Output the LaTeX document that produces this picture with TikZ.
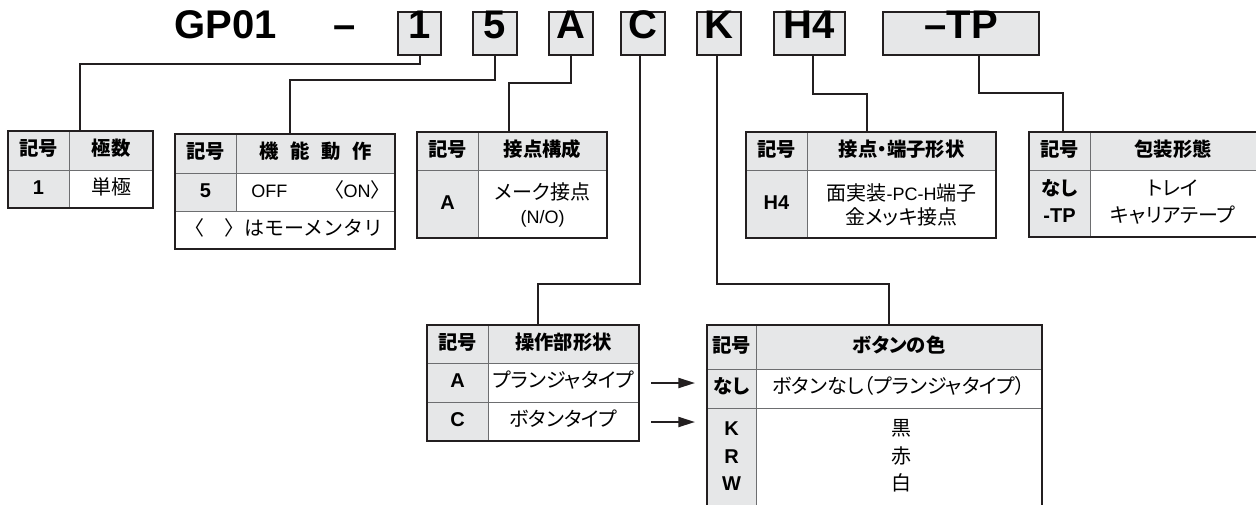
\documentclass[tikz,border=0pt]{standalone}
\usepackage{fontspec}
\setmainfont{Noto Sans CJK JP}[RawFeature=+palt]
\newfontfamily\latf{Liberation Sans}
\newfontfamily\jpn{Noto Sans CJK JP}
\newcommand\lt[1]{{\latf\fontsize{13.5}{17}\selectfont #1}}
\usetikzlibrary{arrows.meta}
\definecolor{gfill}{HTML}{E6E7E8}
\definecolor{lineC}{HTML}{231F20}
\definecolor{innerC}{HTML}{6D6E70}
\newcommand\tabframe[6]{%
  \fill[gfill] (#1,#4) rectangle (#3,#5);
  \fill[gfill] (#1,#5) rectangle (#2,#6);
  \draw[inner] (#1,#5) -- (#3,#5) (#2,#4) -- (#2,#6);
}
\begin{document}
\begin{tikzpicture}[x=0.75pt,y=-0.75pt,
  outer/.style={draw=lineC, line width=1.5pt},
  inner/.style={draw=innerC, line width=0.75pt},
  conn/.style={draw=lineC, line width=1.5pt},
  arr/.style={conn, -{Triangle[length=12.5pt,width=7.5pt]}},
  title/.style={inner sep=0pt, font=\latf\bfseries\fontsize{30}{30}\selectfont, text height=0.72em, text depth=0pt},
  code/.style={title, draw=lineC, fill=gfill, line width=1.1pt, minimum height=32.25pt},
  tx/.style={inner sep=0pt, text height=0.88em, text depth=0.12em},
  hd/.style={tx, font=\fontsize{14.5}{16}\bfseries\selectfont},
  sy/.style={tx, font=\latf\fontsize{15}{16}\bfseries\selectfont},
  syj/.style={tx, font=\fontsize{14.5}{16}\bfseries\selectfont},
  bd/.style={tx, font=\fontsize{15}{17}\selectfont}]
\useasboundingbox (0,0) rectangle (1256,504);
\fill[white] (0,0) rectangle (1256,504);

% ---- title and code boxes
\node[title] (gp) at (226,33.5) {GP01};
\node[title] (dash) at (345,33.5) {–};
\node[code, minimum width=32.25pt] (b1) at (419.5,33.5) {1};
\node[code, minimum width=33pt] (b5) at (495,33.5) {5};
\node[code, minimum width=33pt] (bA) at (571,33.5) {A};
\node[code, minimum width=33pt] (bC) at (643,33.5) {C};
\node[code, minimum width=33pt] (bK) at (719,33.5) {K};
\node[code, minimum width=53.25pt] (bH) at (809.5,33.5) {H4};
\node[code, minimum width=117pt] (bTP) at (961,33.5) {–TP};

% ---- tables: frames
\tabframe{8}{69}{153}{131}{170}{208}
\draw[outer] (8,131) rectangle (153,208);

\tabframe{175}{236}{395}{134}{173}{211}
\draw[inner] (175,211) -- (395,211);
\draw[outer] (175,134) rectangle (395,249);

\tabframe{417}{478}{607}{132}{170}{238}
\draw[outer] (417,132) rectangle (607,238);

\tabframe{746}{807}{996}{132}{170}{238}
\draw[outer] (746,132) rectangle (996,238);

\tabframe{1029}{1090}{1262}{132}{170}{237}
\draw[outer] (1029,132) rectangle (1262,237);

\tabframe{427}{488}{639}{325}{363}{441}
\draw[inner] (427,402) -- (639,402);
\draw[outer] (427,325) rectangle (639,441);

\tabframe{707}{756}{1042}{325}{369}{512}
\draw[inner] (707,408) -- (1042,408);
\draw[outer] (707,325) rectangle (1042,512);

% ---- table anchors
\coordinate (t1) at (80,131);
\coordinate (t2) at (290,134);
\coordinate (t3) at (509,132);
\coordinate (t4) at (867,132);
\coordinate (t5) at (1063,132);
\coordinate (t6) at (538,325);
\coordinate (t7) at (889,325);

% ---- connectors
\draw[conn] (b1.south) |- (80,64) -- (t1);
\draw[conn] (b5.south) |- (290,80) -- (t2);
\draw[conn] (bA.south) |- (509,83) -- (t3);
\draw[conn] (bC.south) ++(-3,0) |- (538,284) -- (t6);
\draw[conn] (bK.south) ++(-2,0) |- (889,284) -- (t7);
\draw[conn] (bH.south) ++(3.5,0) |- (867,94) -- (t4);
\draw[conn] (bTP.south) ++(18,0) |- (1063,93) -- (t5);

% ---- arrows
\coordinate (a1s) at (651,383); \coordinate (a1e) at (695,383);
\coordinate (a2s) at (651,422); \coordinate (a2e) at (695,422);
\draw[arr] (a1s) -- (a1e);
\draw[arr] (a2s) -- (a2e);

% ---- T1
\node[hd] (h1a) at (38.5,150.5) {記号};
\node[hd] (h1b) at (111,150.5) {極数};
\node[sy] (s1) at (38.5,189) {1};
\node[bd] (d1) at (111,189) {単極};

% ---- T2
\node[hd] (h2a) at (205.5,153.5) {記号};
\node[hd] (h2b) at (315.5,153.5) {機\hspace{0.6em}能\hspace{0.6em}動\hspace{0.6em}作};
\node[sy] (s2) at (205.5,192) {5};
\node[bd, anchor=west] (d2a) at (251,192) {\lt{OFF}};
\node[bd, anchor=east] (d2b) at (381,192) {〈\lt{ON}〉};
\node[bd, font=\jpn\fontsize{15}{17}\selectfont] (d2c) at (284,230) {〈　〉はモーメンタリ};

% ---- T3
\node[hd] (h3a) at (447.5,151) {記号};
\node[hd] (h3b) at (542.5,151) {接点構成};
\node[sy] (s3) at (447.5,204) {A};
\node[bd] (d3a) at (542.5,194) {メーク接点};
\node[bd] (d3b) at (542.5,218) {\lt{(N/O)}};

% ---- T4
\node[hd] (h4a) at (776.5,151) {記号};
\node[hd] (h4b) at (901.5,151) {接点・端子形状};
\node[sy] (s4) at (776.5,204) {H4};
\node[bd] (d4a) at (901.5,195) {面実装\lt{-PC-H}端子};
\node[bd] (d4b) at (901.5,219) {金メッキ接点};

% ---- T5
\node[hd] (h5a) at (1059.5,151) {記号};
\node[hd] (h5b) at (1173,151) {包装形態};
\node[syj] (s5a) at (1059.5,190) {なし};
\node[sy] (s5b) at (1059.5,217) {-TP};
\node[bd] (d5a) at (1173,190) {トレイ};
\node[bd] (d5b) at (1173,217) {キャリアテープ};

% ---- T6
\node[hd] (h6a) at (457.5,344) {記号};
\node[hd] (h6b) at (563.5,344) {操作部形状};
\node[sy] (s6a) at (457.5,382.5) {A};
\node[bd] (d6a) at (563.5,382.5) {プランジャタイプ};
\node[sy] (s6b) at (457.5,421.5) {C};
\node[bd] (d6b) at (563.5,421.5) {ボタンタイプ};

% ---- T7
\node[hd] (h7a) at (731.5,347) {記号};
\node[hd] (h7b) at (899,347) {ボタンの色};
\node[syj] (s7a) at (731.5,388) {なし};
\node[bd] (d7a) at (899,388) {ボタンなし（プランジャタイプ）};
\node[sy] (s7b) at (731.5,430) {K};
\node[sy] (s7c) at (731.5,458) {R};
\node[sy] (s7d) at (731.5,485) {W};
\node[bd] (d7b) at (901,430) {黒};
\node[bd] (d7c) at (901,458) {赤};
\node[bd] (d7d) at (901,485) {白};
\end{tikzpicture}
\end{document}
